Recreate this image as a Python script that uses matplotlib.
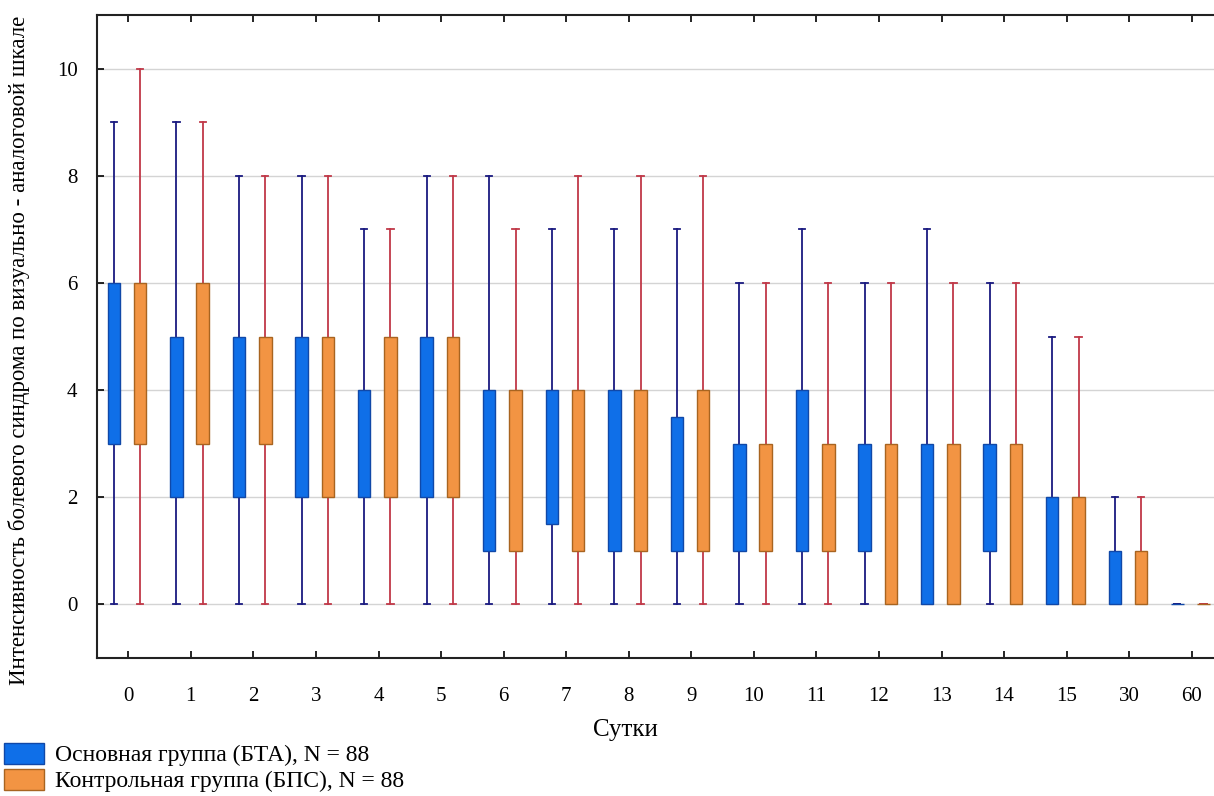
import matplotlib
matplotlib.use("Agg")
import matplotlib.pyplot as plt
from matplotlib.patches import Patch

days = ["0", "1", "2", "3", "4", "5", "6", "7", "8", "9", "10", "11", "12", "13", "14", "15", "30", "60"]

# Main group (BTA)
main_min = [0, 0, 0, 0, 0, 0, 0, 0, 0, 0, 0, 0, 0, 0, 0, 0, 0, 0]
main_q1 = [3, 2, 2, 2, 2, 2, 1, 1.5, 1, 1, 1, 1, 1, 0, 1, 0, 0, 0]
main_q3 = [6, 5, 5, 5, 4, 5, 4, 4, 4, 3.5, 3, 4, 3, 3, 3, 2, 1, 0]
main_max = [9, 9, 8, 8, 7, 8, 8, 7, 7, 7, 6, 7, 6, 7, 6, 5, 2, 0]

# Control group (BPS)
ctrl_min = [0, 0, 0, 0, 0, 0, 0, 0, 0, 0, 0, 0, 0, 0, 0, 0, 0, 0]
ctrl_q1 = [3, 3, 3, 2, 2, 2, 1, 1, 1, 1, 1, 1, 0, 0, 0, 0, 0, 0]
ctrl_q3 = [6, 6, 5, 5, 5, 5, 4, 4, 4, 4, 3, 3, 3, 3, 3, 2, 1, 0]
ctrl_max = [10, 9, 8, 8, 7, 8, 7, 8, 8, 8, 6, 6, 6, 6, 6, 5, 2, 0]

yticks = [0, 2, 4, 6, 8, 10]
ylabel = "Интенсивность болевого синдрома по визуально - аналоговой шкале"
xlabel = "Сутки"
legend_labels = ["Основная группа (БТА), N = 88", "Контрольная группа (БПС), N = 88"]

plt.rcParams['font.family'] = ['Liberation Serif', 'DejaVu Serif']

fig = plt.figure(figsize=(12.14, 7.96), dpi=100)
ax = fig.add_axes([97/1214, 1-658/796, (1214-97)/1214 + 0.01, (658-15)/796])

def stats(lo, q1, q3, hi):
    return [dict(whislo=a, q1=b, med=b, q3=c, whishi=d, fliers=[])
            for a, b, c, d in zip(lo, q1, q3, hi)]

pos = list(range(len(days)))
common = dict(widths=0.2, patch_artist=True, showfliers=False, capwidths=0.1,
              medianprops=dict(linewidth=0, alpha=0), manage_ticks=False)

b1 = ax.bxp(stats(main_min, main_q1, main_q3, main_max), positions=[p - 0.23 for p in pos],
            boxprops=dict(facecolor="#0f6fe8", edgecolor="#1048a8", linewidth=1.0),
            whiskerprops=dict(color="#1a1a80", linewidth=1.3),
            capprops=dict(color="#1a1a80", linewidth=1.3), **common)
b2 = ax.bxp(stats(ctrl_min, ctrl_q1, ctrl_q3, ctrl_max), positions=[p + 0.19 for p in pos],
            boxprops=dict(facecolor="#f29443", edgecolor="#a86420", linewidth=1.0),
            whiskerprops=dict(color="#c03848", linewidth=1.3),
            capprops=dict(color="#c03848", linewidth=1.3), **common)
for grp in (b1, b2):
    for b in grp["boxes"]:
        b.set_zorder(3)

ax.set_xlim(-0.5, 17.55)
ax.set_ylim(-1, 11)
ax.set_xticks(pos)
ax.set_xticklabels(days)
ax.set_yticks(yticks)
ax.yaxis.grid(True, color="#d4d4d4", linewidth=1.0)
ax.set_axisbelow(True)
ax.tick_params(axis='x', direction='in', top=True, length=5, width=1.2, pad=21, labelsize=15)
ax.tick_params(axis='y', direction='in', length=5, width=1.2, pad=14, labelsize=15)
for s in ax.spines.values():
    s.set_linewidth(1.5)
    s.set_color("#222222")

ax.set_xlabel(xlabel, fontsize=18, va='center')
ax.xaxis.set_label_coords((620-97)/1117, -(730-658)/643)
ax.set_ylabel(ylabel, fontsize=16.5, va='center')
ax.yaxis.set_label_coords(-(97-20)/1117, (658-350)/643)

handles = [Patch(facecolor="#0f6fe8", edgecolor="#1048a8"),
           Patch(facecolor="#f29443", edgecolor="#a86420")]
fig.legend(handles, legend_labels, loc='lower left', bbox_to_anchor=(0.0, 0.0),
           frameon=False, fontsize=17, handlelength=1.7, handleheight=1.0,
           labelspacing=0.1, handletextpad=0.5, borderaxespad=0.0, borderpad=0.15)

fig.savefig("out.png", dpi=100)
